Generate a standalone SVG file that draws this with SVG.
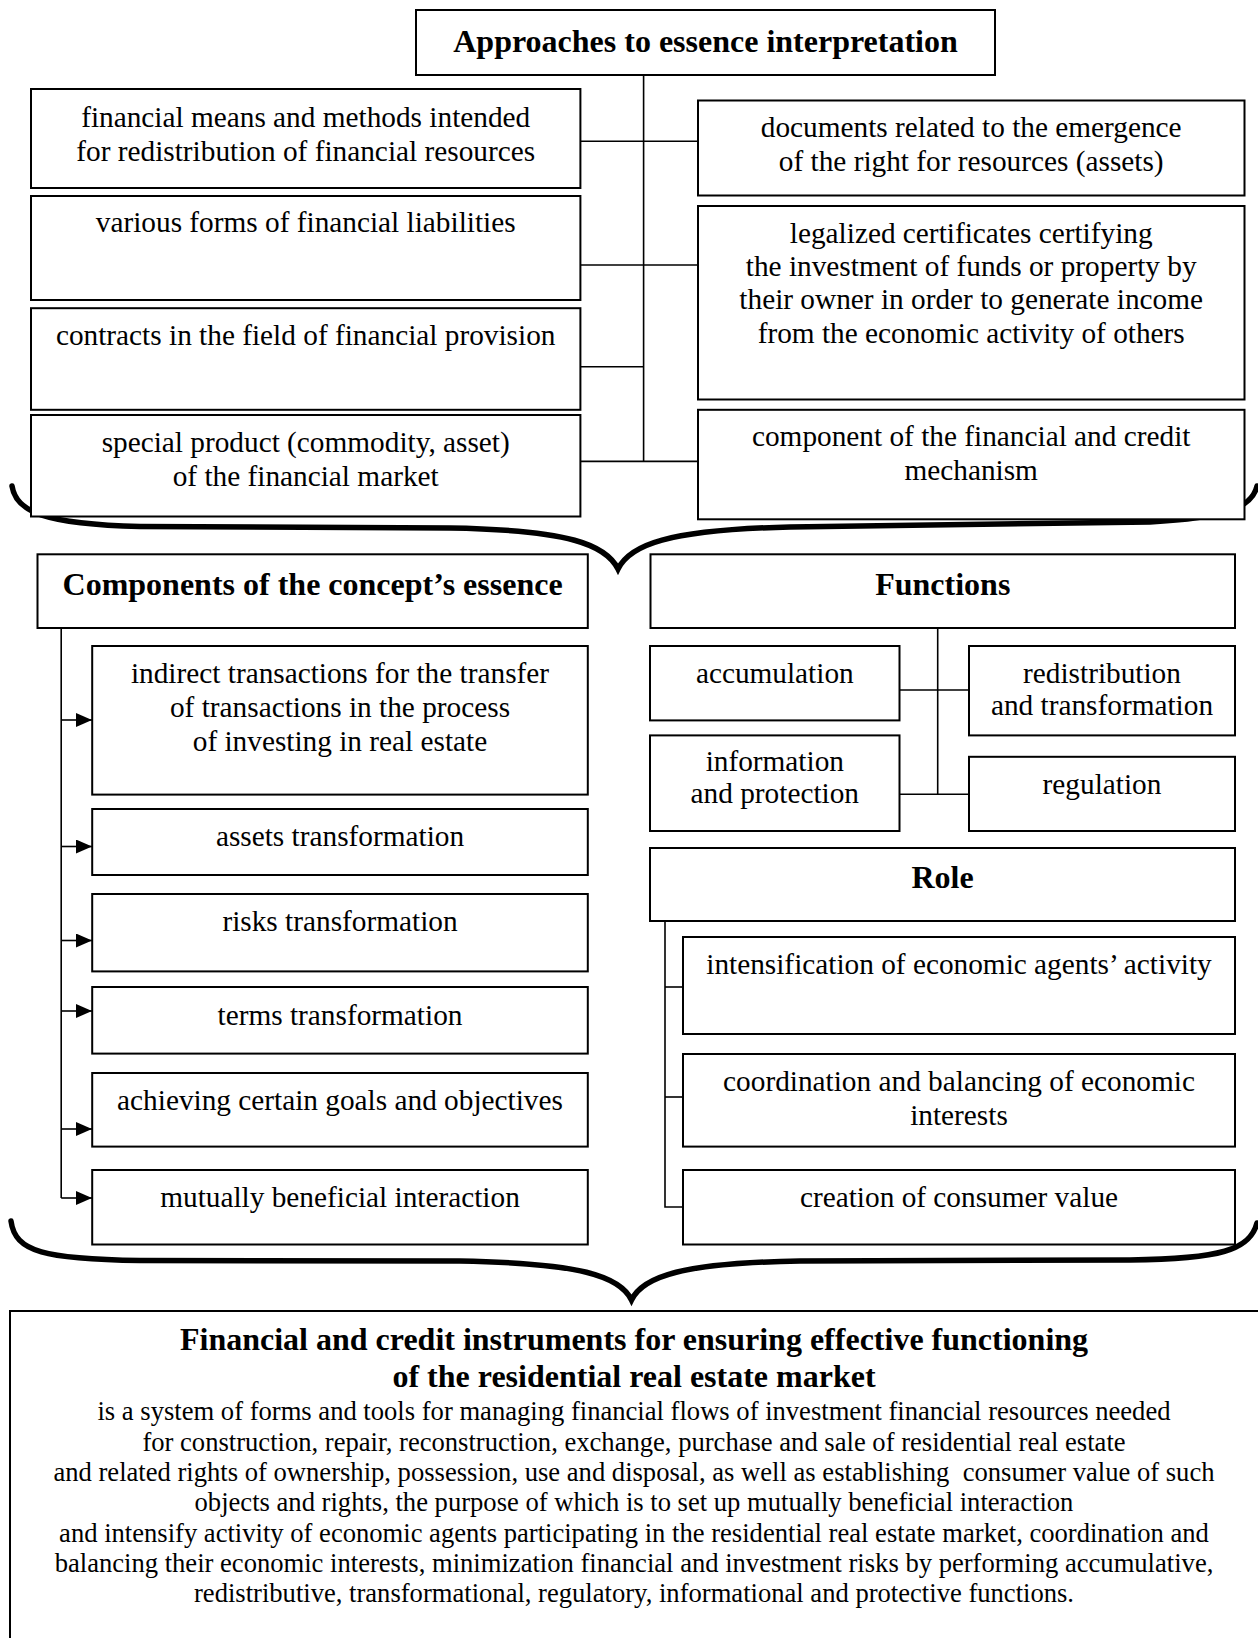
<svg xmlns="http://www.w3.org/2000/svg" width="1258" height="1638" viewBox="0 0 1258 1638">
<defs>
<style>
.box{fill:#fff;stroke:#000;stroke-width:2}
.t{font-family:"Liberation Serif","Times New Roman",serif;font-size:29.3px;fill:#000;text-anchor:middle}
.b{font-family:"Liberation Serif","Times New Roman",serif;font-size:32px;font-weight:bold;fill:#000;text-anchor:middle}
.p{font-family:"Liberation Serif","Times New Roman",serif;font-size:26.6px;fill:#000;text-anchor:middle}
.ln{fill:none;stroke:#000;stroke-width:1.6}
.brace{fill:none;stroke:#000;stroke-width:5.5;stroke-linecap:round}
</style>
<marker id="arr" viewBox="0 0 16 14" refX="16" refY="7" markerWidth="16" markerHeight="14" markerUnits="userSpaceOnUse" orient="auto">
<path d="M0,0 L16,7 L0,14 Z" fill="#000"/>
</marker>
</defs>
<rect width="1258" height="1638" fill="#fff"/>

<g id="connectors">
<path class="ln" d="M643.6,75 V461.4"/>
<path class="ln" d="M580.4,141.2 H698"/>
<path class="ln" d="M580.4,265 H698"/>
<path class="ln" d="M580.4,366.7 H643.6"/>
<path class="ln" d="M580.4,461.4 H698"/>
<path class="ln" d="M61.2,628 V1198"/>
<path class="ln" d="M61.2,720 H92" marker-end="url(#arr)"/>
<path class="ln" d="M61.2,846.5 H92" marker-end="url(#arr)"/>
<path class="ln" d="M61.2,940.5 H92" marker-end="url(#arr)"/>
<path class="ln" d="M61.2,1011 H92" marker-end="url(#arr)"/>
<path class="ln" d="M61.2,1129 H92" marker-end="url(#arr)"/>
<path class="ln" d="M61.2,1198 H92" marker-end="url(#arr)"/>
<path class="ln" d="M937.7,628 V794.3"/>
<path class="ln" d="M899.5,690 H969"/>
<path class="ln" d="M899.5,794.3 H969"/>
<path class="ln" d="M665,921 V1207 H683"/>
<path class="ln" d="M665,987 H683"/>
<path class="ln" d="M665,1097 H683"/>
<path class="brace" d="M12,486 C16,512 45,524 140,526.5 L450,528 C570,530 606,545 618,569 C630,545 666,530 790,527 L1150,522 C1225,518 1252,508 1257,486"/>
<path class="brace" d="M11,1221 C15,1252 45,1259 140,1260.5 L460,1261 C580,1263 620,1276 631.5,1300 C643,1276 683,1263 800,1261 L1130,1260 C1220,1259 1250,1250 1257,1223"/>
</g>

<g id="title">
<rect class="box" x="416" y="10" width="579" height="65"/>
<text class="b" x="705.5" y="52">Approaches to essence interpretation</text>
</g>

<g id="l1">
<rect class="box" x="31" y="89" width="549.4" height="99"/>
<text class="t" x="305.7" y="126.7">financial means and methods intended</text>
<text class="t" x="305.7" y="160.5">for redistribution of financial resources</text>
</g>
<g id="l2">
<rect class="box" x="31" y="196" width="549.4" height="104"/>
<text class="t" x="305.7" y="232.4">various forms of financial liabilities</text>
</g>
<g id="l3">
<rect class="box" x="31" y="308.2" width="549.4" height="101.6"/>
<text class="t" x="305.7" y="345.4">contracts in the field of financial provision</text>
</g>
<g id="l4">
<rect class="box" x="31" y="415" width="549.4" height="101.5"/>
<text class="t" x="305.7" y="451.8">special product (commodity, asset)</text>
<text class="t" x="305.7" y="485.5">of the financial market</text>
</g>

<g id="r1">
<rect class="box" x="698" y="100.5" width="546.5" height="95"/>
<text class="t" x="971.2" y="137">documents related to the emergence</text>
<text class="t" x="971.2" y="170.5">of the right for resources (assets)</text>
</g>
<g id="r2">
<rect class="box" x="698" y="206" width="546.5" height="193.5"/>
<text class="t" x="971.2" y="242.8">legalized certificates certifying</text>
<text class="t" x="971.2" y="276">the investment of funds or property by</text>
<text class="t" x="971.2" y="309.2">their owner in order to generate income</text>
<text class="t" x="971.2" y="342.6">from the economic activity of others</text>
</g>
<g id="r3">
<rect class="box" x="698" y="409.8" width="546.5" height="109.5"/>
<text class="t" x="971.2" y="446.3">component of the financial and credit</text>
<text class="t" x="971.2" y="479.7">mechanism</text>
</g>

<g id="components">
<rect class="box" x="37.5" y="554.3" width="550.3" height="73.7"/>
<text class="b" x="312.6" y="595.4">Components of the concept’s essence</text>
</g>
<g id="c1">
<rect class="box" x="92.2" y="646" width="495.6" height="148.6"/>
<text class="t" x="340" y="683">indirect transactions for the transfer</text>
<text class="t" x="340" y="717">of transactions in the process</text>
<text class="t" x="340" y="750.7">of investing in real estate</text>
</g>
<g id="c2">
<rect class="box" x="92.2" y="809" width="495.6" height="66"/>
<text class="t" x="340" y="846.4">assets transformation</text>
</g>
<g id="c3">
<rect class="box" x="92.2" y="894" width="495.6" height="77.4"/>
<text class="t" x="340" y="931">risks transformation</text>
</g>
<g id="c4">
<rect class="box" x="92.2" y="987" width="495.6" height="66.6"/>
<text class="t" x="340" y="1025">terms transformation</text>
</g>
<g id="c5">
<rect class="box" x="92.2" y="1073" width="495.6" height="73.6"/>
<text class="t" x="340" y="1109.5">achieving certain goals and objectives</text>
</g>
<g id="c6">
<rect class="box" x="92.2" y="1170" width="495.6" height="74.5"/>
<text class="t" x="340" y="1207">mutually beneficial interaction</text>
</g>

<g id="functions">
<rect class="box" x="650.5" y="554.3" width="584.5" height="73.7"/>
<text class="b" x="942.8" y="595.4">Functions</text>
</g>
<g id="f1">
<rect class="box" x="650" y="646" width="249.5" height="74.4"/>
<text class="t" x="774.8" y="683">accumulation</text>
</g>
<g id="f2">
<rect class="box" x="969" y="646" width="266" height="89.4"/>
<text class="t" x="1102" y="683">redistribution</text>
<text class="t" x="1102" y="714.5">and transformation</text>
</g>
<g id="f3">
<rect class="box" x="650" y="735.4" width="249.5" height="95.6"/>
<text class="t" x="774.8" y="771.4">information</text>
<text class="t" x="774.8" y="802.5">and protection</text>
</g>
<g id="f4">
<rect class="box" x="969" y="756.8" width="266" height="74.2"/>
<text class="t" x="1102" y="793.6">regulation</text>
</g>

<g id="role">
<rect class="box" x="650" y="848" width="585" height="73"/>
<text class="b" x="942.5" y="888">Role</text>
</g>
<g id="ro1">
<rect class="box" x="683" y="937" width="552" height="97"/>
<text class="t" x="959" y="974">intensification of economic agents’ activity</text>
</g>
<g id="ro2">
<rect class="box" x="683" y="1054" width="552" height="92.6"/>
<text class="t" x="959" y="1091">coordination and balancing of economic</text>
<text class="t" x="959" y="1125">interests</text>
</g>
<g id="ro3">
<rect class="box" x="683" y="1170" width="552" height="74.5"/>
<text class="t" x="959" y="1207">creation of consumer value</text>
</g>

<g id="definition">
<rect class="box" x="10" y="1311" width="1262" height="340"/>
<text class="b" x="634" y="1350">Financial and credit instruments for ensuring effective functioning</text>
<text class="b" x="634" y="1387">of the residential real estate market</text>
<text class="p" x="634" y="1420">is a system of forms and tools for managing financial flows of investment financial resources needed</text>
<text class="p" x="634" y="1450.5">for construction, repair, reconstruction, exchange, purchase and sale of residential real estate</text>
<text class="p" x="634" y="1481" xml:space="preserve">and related rights of ownership, possession, use and disposal, as well as establishing  consumer value of such</text>
<text class="p" x="634" y="1511">objects and rights, the purpose of which is to set up mutually beneficial interaction</text>
<text class="p" x="634" y="1541.5">and intensify activity of economic agents participating in the residential real estate market, coordination and</text>
<text class="p" x="634" y="1572">balancing their economic interests, minimization financial and investment risks by performing accumulative,</text>
<text class="p" x="634" y="1602">redistributive, transformational, regulatory, informational and protective functions.</text>
</g>
</svg>
